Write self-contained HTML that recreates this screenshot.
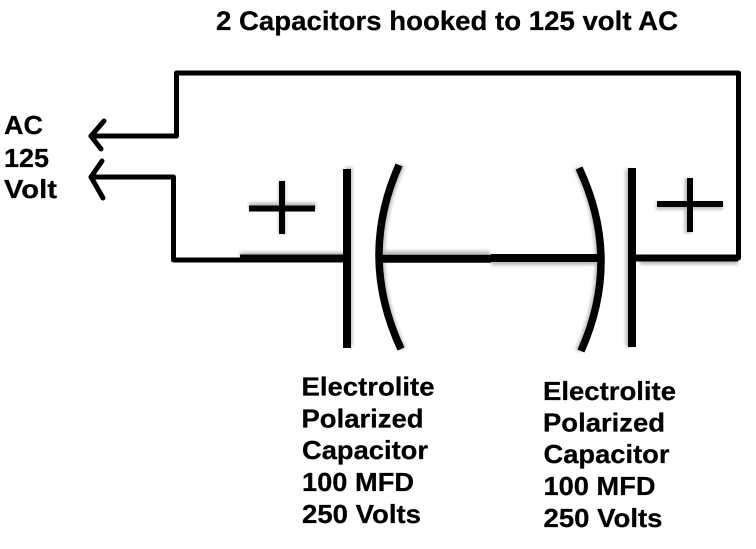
<!DOCTYPE html>
<html>
<head>
<meta charset="utf-8">
<style>
html,body{margin:0;padding:0;background:#fff;}
svg{display:block;}
text{font-family:"Liberation Sans",sans-serif;font-weight:bold;fill:#000;stroke:#000;stroke-width:.25px;font-size:26px;}
</style>
</head>
<body>
<svg width="756" height="549" viewBox="0 0 756 549" xmlns="http://www.w3.org/2000/svg">
<defs>
<filter id="b" x="-30%" y="-30%" width="160%" height="160%"><feGaussianBlur stdDeviation="1.6"/></filter>
</defs>
<rect width="756" height="549" fill="#fff"/>
<text x="216" y="30" textLength="462" lengthAdjust="spacingAndGlyphs" style="font-size:27px">2 Capacitors hooked to 125 volt AC</text>

<!-- soft shadows -->
<g fill="none" stroke="#bbb" filter="url(#b)">
<path d="M249 206H316M282 181V234" stroke-width="7"/>
<path d="M656 206H723M688 178V233" stroke-width="7"/>
<path d="M240 255H345" stroke-width="6"/>
<path d="M384 254H490" stroke-width="6"/>
<path d="M491 262H598" stroke-width="6"/>
<path d="M640 262H738" stroke-width="5"/>
<path d="M402 165Q361 257 403 349" stroke-width="6"/>
<path d="M577 168Q619 259 578 351" stroke-width="6"/>
<path d="M629 169V347" stroke-width="7"/>
<path d="M349 167V346" stroke-width="7"/>
</g>

<g fill="none" stroke="#000" stroke-width="5" stroke-linecap="round" stroke-linejoin="round">
<path d="M91 136H176.5V73H738.5V258H634"/>
<path d="M91 177H173.5V260H342"/>
<path d="M104 121L91 136L101 149"/>
<path d="M102 161L91 177L103 198"/>
</g>

<g fill="none" stroke="#000" stroke-width="8">
<path d="M240 258.5H345"/>
<path d="M380 258.7H491"/>
<path d="M491 258H600"/>
<path d="M636 258H738" stroke-width="7"/>
<path d="M347 169V348"/>
<path d="M632 168V347"/>
</g>
<g fill="none" stroke="#000" stroke-width="7.5">
<path d="M399 165Q358 257 401 349"/>
<path d="M579 168Q622 259 581 351"/>
</g>

<g fill="none" stroke="#000" stroke-width="6">
<path d="M249 208.5H315"/>
<path d="M282 181V234"/>
<path d="M657 204H723"/>
<path d="M690 178V232"/>
</g>

<text x="4" y="134" textLength="39" lengthAdjust="spacingAndGlyphs">AC</text>
<text x="4" y="167" textLength="45" lengthAdjust="spacingAndGlyphs">125</text>
<text x="4" y="198" textLength="53" lengthAdjust="spacingAndGlyphs">Volt</text>

<text x="301.5" y="395.5" textLength="133" lengthAdjust="spacingAndGlyphs">Electrolite</text>
<text x="301.5" y="427.5" textLength="122" lengthAdjust="spacingAndGlyphs">Polarized</text>
<text x="302" y="459" textLength="126" lengthAdjust="spacingAndGlyphs">Capacitor</text>
<text x="302" y="491" textLength="112" lengthAdjust="spacingAndGlyphs">100 MFD</text>
<text x="302" y="523" textLength="119" lengthAdjust="spacingAndGlyphs">250 Volts</text>

<text x="543" y="400" textLength="133" lengthAdjust="spacingAndGlyphs">Electrolite</text>
<text x="543" y="431.5" textLength="122" lengthAdjust="spacingAndGlyphs">Polarized</text>
<text x="543.5" y="463" textLength="126" lengthAdjust="spacingAndGlyphs">Capacitor</text>
<text x="543.5" y="495" textLength="112" lengthAdjust="spacingAndGlyphs">100 MFD</text>
<text x="543.5" y="527" textLength="119" lengthAdjust="spacingAndGlyphs">250 Volts</text>
</svg>
</body>
</html>
